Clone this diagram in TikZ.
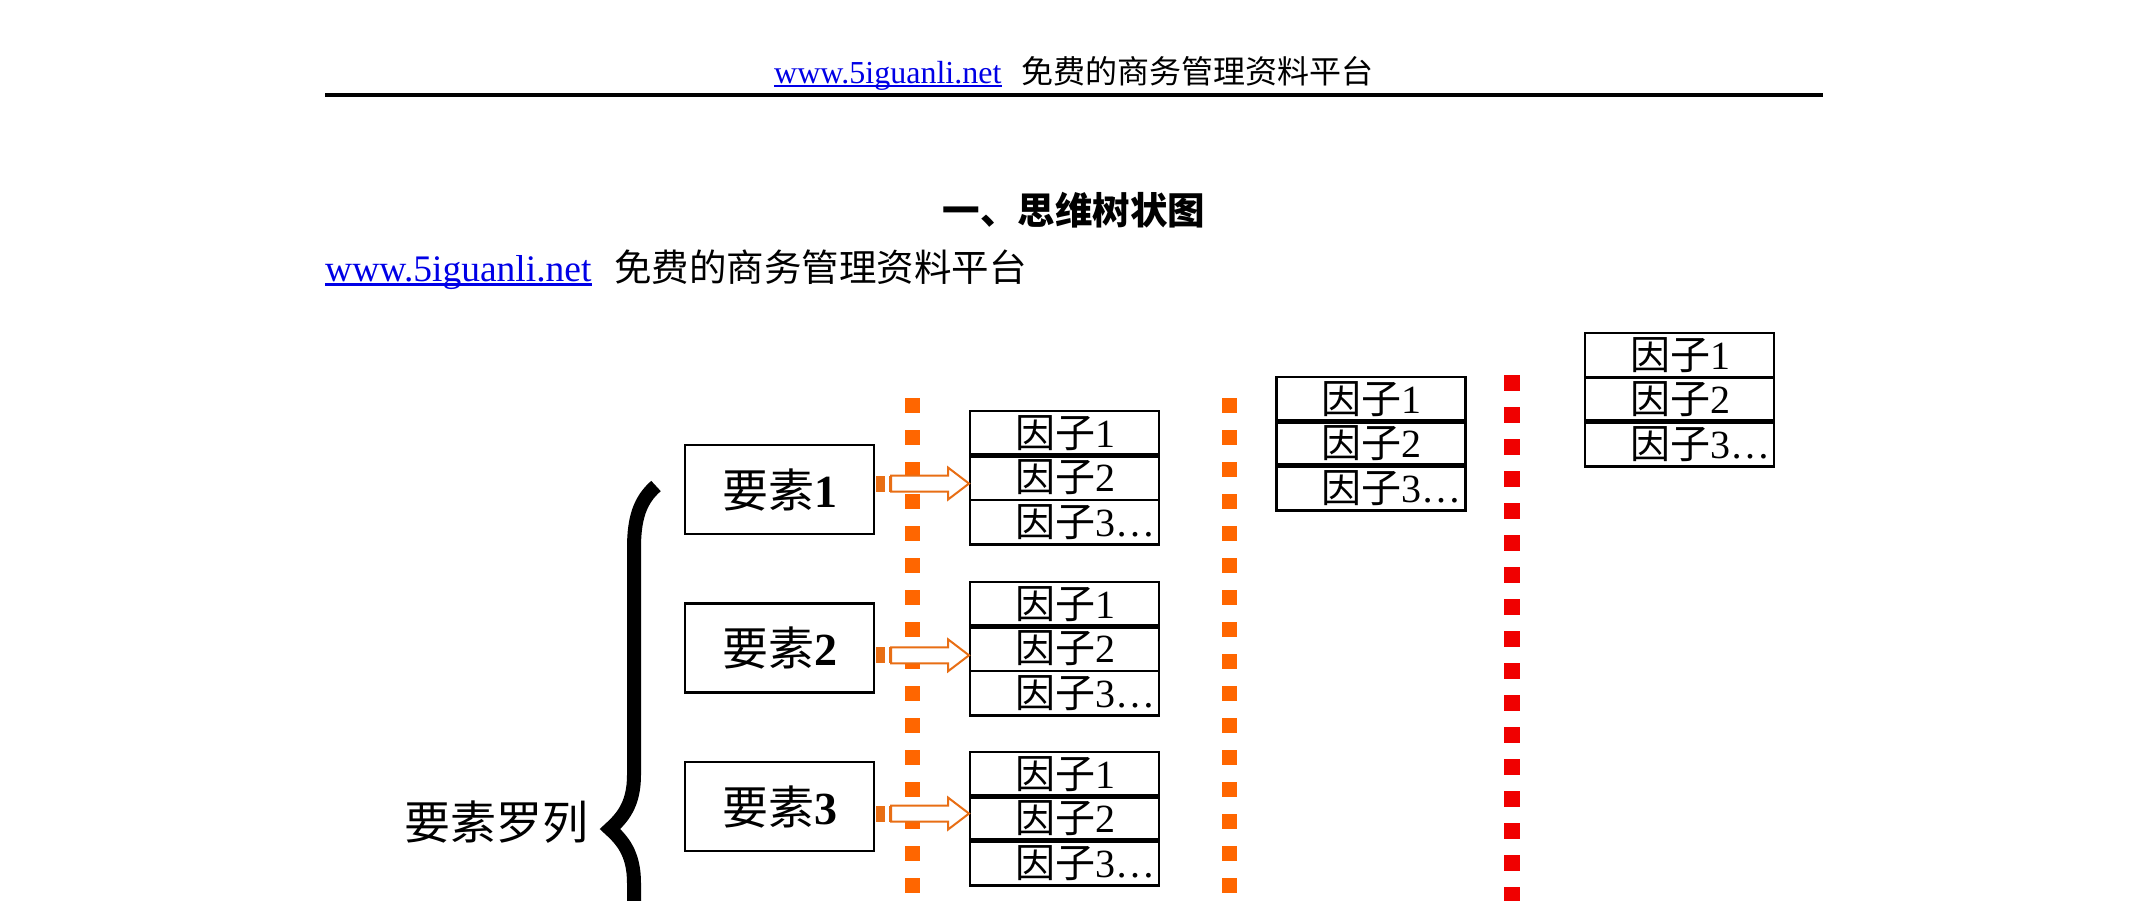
\documentclass[tikz,border=0pt]{standalone}
\usepackage{fontspec}
\setmainfont{Liberation Serif}
\newfontfamily\cjk{Noto Sans CJK SC}
\usetikzlibrary{calc}
\definecolor{linkblue}{RGB}{0,0,230}
\definecolor{dotorange}{RGB}{255,102,0}
\definecolor{arroworange}{RGB}{232,110,20}
\definecolor{dotred}{RGB}{240,0,0}
\newcommand\yz[1]{\makebox[183pt][l]{\hspace{42pt}{\cjk 因子}#1}}
\newcommand\stripearrow[4]{%
  \path let \p1=(#1.east), \p2=(#2.west), \p3=($(#1.east)!0.5!(#2.west)$) in
    coordinate (#3s) at (\x1,\y3+#4) coordinate (#3e) at (\x2,\y3+#4);
  \fill[arroworange] ([xshift=1.5pt,yshift=-8pt]#3s) rectangle ([xshift=11pt,yshift=8pt]#3s);
  \fill[arroworange] ([xshift=14.5pt,yshift=-8pt]#3s) rectangle ([xshift=18pt,yshift=8pt]#3s);
  \draw[arroworange, line width=2pt, fill=white, line join=miter]
    ([xshift=17pt,yshift=8pt]#3s) -- ([xshift=-22pt,yshift=8pt]#3e)
    -- ([xshift=-22pt,yshift=16pt]#3e) -- ([xshift=-1pt]#3e)
    -- ([xshift=-22pt,yshift=-16pt]#3e) -- ([xshift=-22pt,yshift=-8pt]#3e)
    -- ([xshift=17pt,yshift=-8pt]#3s) -- cycle;
}
\begin{document}
\begin{tikzpicture}[x=1pt,y=-1pt,
  ebox/.style={draw, line width=2.6pt, minimum width=189pt, minimum height=89pt, inner sep=0pt, outer sep=0pt, font=\fontsize{46}{50}\selectfont},
  frow/.style={draw, line width=2.6pt, minimum width=189pt, minimum height=44.4pt, inner sep=0pt, outer sep=0pt, font=\fontsize{40}{44}\selectfont},
  septhick/.style={line width=5pt},
  orangedots/.style={dotorange, line width=15pt, dash pattern=on 15pt off 17pt},
  reddots/.style={dotred, line width=16pt, dash pattern=on 16pt off 16pt},
  linktext/.style={anchor=base west, inner sep=0pt, text=linkblue},
  cjktext/.style={anchor=base west, inner sep=0pt},
]
\fill[white] (0,0) rectangle (2149,900);
\useasboundingbox (0,0) rectangle (2149,900);

% header
\node[linktext, font=\fontsize{32}{36}\selectfont] (hlink) at (774,83) {www.5iguanli.net};
\draw[linkblue, line width=2pt] ([yshift=-3pt]hlink.base west) -- ([yshift=-3pt]hlink.base east);
\node[cjktext, font=\cjk\fontsize{32}{36}\selectfont] (htext) at (1021,83) {免费的商务管理资料平台};
\coordinate (rl) at (325,95); \coordinate (rr) at (1823,95);
\draw[line width=4pt] (rl) -- (rr);

% title
\node[anchor=base, inner sep=0pt, font=\cjk\bfseries\fontsize{37.5}{40}\selectfont] (title) at (1074,224) {一、思维树状图};

% second line
\node[linktext, font=\fontsize{37.5}{40}\selectfont] (blink) at (325,281) {www.5iguanli.net};
\draw[linkblue, line width=2.2pt] ([yshift=-3.5pt]blink.base west) -- ([yshift=-3.5pt]blink.base east);
\node[cjktext, font=\cjk\fontsize{37.5}{40}\selectfont] (btext) at (614,281) {免费的商务管理资料平台};

% dotted lines
\coordinate (o1t) at (912,398); \coordinate (o1b) at (912,915);
\coordinate (o2t) at (1229,398); \coordinate (o2b) at (1229,915);
\coordinate (r1t) at (1512,375); \coordinate (r1b) at (1512,915);
\draw[orangedots] (o1t) -- (o1b);
\draw[orangedots] (o2t) -- (o2b);
\draw[reddots] (r1t) -- (r1b);

% brace and label
\draw[line width=14pt, line join=miter, miter limit=10]
  (656,486) .. controls (640,500) and (634,518) .. (634,548) -- (634,775)
  .. controls (634,805) and (622,818) .. (610,829)
  .. controls (622,840) and (634,853) .. (634,883) -- (634,915);
\node[anchor=east, inner sep=0pt, font=\cjk\fontsize{46}{50}\selectfont] (lbl) at (589,822) {要素罗列};

% element boxes
\node[ebox] (e1) at (779.5,489.5) {{\cjk 要素}\textbf{1}};
\node[ebox] (e2) at (779.5,648) {{\cjk 要素}\textbf{2}};
\node[ebox] (e3) at (779.5,806.5) {{\cjk 要素}\textbf{3}};

% factor column 1
\node[frow] (f1a) at (1064.5,433.2) {\yz{1}};
\node[frow] (f1b) at (1064.5,477.6) {\yz{2}};
\node[frow] (f1c) at (1064.5,522.0) {\yz{3…}};
\node[frow] (f2a) at (1064.5,604.2) {\yz{1}};
\node[frow] (f2b) at (1064.5,648.6) {\yz{2}};
\node[frow] (f2c) at (1064.5,693.0) {\yz{3…}};
\node[frow] (f3a) at (1064.5,774.2) {\yz{1}};
\node[frow] (f3b) at (1064.5,818.6) {\yz{2}};
\node[frow] (f3c) at (1064.5,863.0) {\yz{3…}};
% factor column 2
\node[frow] (g1) at (1371,399.2) {\yz{1}};
\node[frow] (g2) at (1371,443.6) {\yz{2}};
\node[frow] (g3) at (1371,488.0) {\yz{3…}};
% factor column 3
\node[frow] (h1) at (1679.5,355.2) {\yz{1}};
\node[frow] (h2) at (1679.5,399.6) {\yz{2}};
\node[frow] (h3) at (1679.5,444.0) {\yz{3…}};

% thicker separators
\draw[septhick] (f1a.south west) -- (f1a.south east);
\draw[septhick] (f2a.south west) -- (f2a.south east);
\draw[septhick] (f3a.south west) -- (f3a.south east);
\draw[septhick] (f3b.south west) -- (f3b.south east);
\draw[septhick] (g1.south west) -- (g1.south east);
\draw[septhick] (g2.south west) -- (g2.south east);
\draw[septhick] (h2.south west) -- (h2.south east);

% striped arrows
\stripearrow{e1}{f1b}{a1}{0pt}
\stripearrow{e2}{f2b}{a2}{-7pt}
\stripearrow{e3}{f3b}{a3}{-1pt}
\end{tikzpicture}
\end{document}
